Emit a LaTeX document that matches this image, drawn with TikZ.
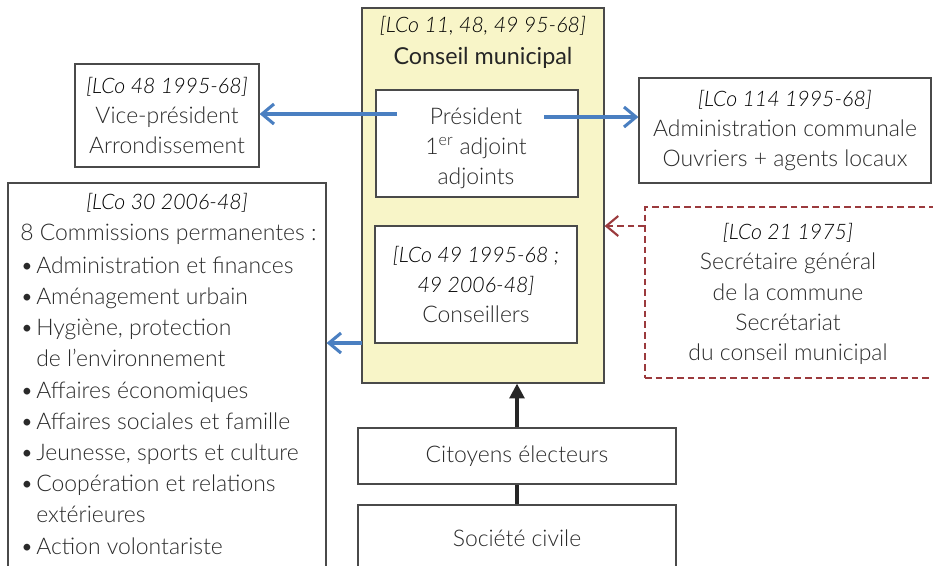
\documentclass[tikz,border=0pt]{standalone}
\usepackage{fontspec}
\setmainfont{Lato}[UprightFont=* Light,ItalicFont=* Light Italic,BoldFont=*]
\newfontfamily\titlefont{Lato}
\usetikzlibrary{arrows.meta}
\definecolor{txt}{HTML}{2A2A2A}
\definecolor{frm}{HTML}{4A4A4A}
\definecolor{cmyellow}{HTML}{F8F5C8}
\definecolor{arblue}{HTML}{4A7FC1}
\definecolor{arred}{HTML}{9B3A3D}
\newcommand\blt{\makebox[12pt][l]{•}}
\newcommand\ind{\hspace*{12pt}}
\newcommand\refi[1]{{\fontsize{16}{22.6}\selectfont\itshape\color{black}#1}}
\begin{document}
\begin{tikzpicture}[x=0.75pt,y=-0.75pt,
  every node/.style={text=txt,font=\fontsize{17.2}{22.6}\selectfont,inner sep=0pt},
  sz/.style 2 args={minimum width=#1*0.75pt,minimum height=#2*0.75pt},
  frame/.style={draw=frm,line width=0.9pt},
  dframe/.style={draw=arred,line width=1.1pt,dash pattern=on 5pt off 3pt},
  reftxt/.style={text=black,font=\fontsize{16}{22.6}\selectfont\itshape},
  listtxt/.style={font=\fontsize{17.2}{23.4}\selectfont},
  bluearrow/.style={draw=arblue,line width=2.3pt,-{Straight Barb[length=9pt,width=15pt,line width=2.3pt]}},
  redarrow/.style={draw=arred,line width=1.6pt,dash pattern=on 5pt off 3pt,-{Straight Barb[length=9pt,width=15pt,line width=1.6pt]}},
  blackarrow/.style={draw=black!85,line width=2.4pt,-{Triangle[length=11pt,width=11pt]}},
  thickline/.style={draw=black!85,line width=2.4pt}]
\useasboundingbox (0,0) rectangle (933,565);
\clip (0,0) rectangle (933,565);
% central council
\node[frame,fill=cmyellow,sz={242}{375}] (cm) at (483,195.5) {};
\node[reftxt] (cmref) at (483,26) {[LCo 11, 48, 49 95-68]};
\node[font=\fontsize{17.5}{22.6}\selectfont\titlefont,text=black!85] (cmtitle) at (483,58) {Conseil municipal};
\node[frame,fill=white,sz={202}{107}] (pres) at (477,143.5) {};
\node[align=center] (prestxt) at (476,148) {Président\\1\textsuperscript{er} adjoint\\adjoints};
\node[frame,fill=white,sz={202}{117},align=center] (cons) at (476,284.5) {\refi{[LCo 49 1995-68 ;}\\\refi{49 2006-48]}\\Conseillers};
% side boxes
\node[frame,sz={184}{103},align=center] (vp) at (167,115.5) {\refi{[LCo 48 1995-68]}\\Vice-président\\Arrondissement};
\node[frame,sz={292}{105},align=center] (adm) at (785,130.5) {\refi{[LCo 114 1995-68]}\\Administration communale\\Ouvriers + agents locaux};
\node[frame,sz={318}{400}] (comm) at (167,383) {};
\node[reftxt] (commref) at (167,203) {[LCo 30 2006-48]};
\node[anchor=north west,align=left,listtxt] (commlist) at (20,224) {8 Commissions permanentes :\\[1pt]
\blt Administration et finances\\
\blt Aménagement urbain\\
\blt Hygiène, protection\\
\ind de l’environnement\\
\blt Affaires économiques\\
\blt Affaires sociales et famille\\
\blt Jeunesse, sports et culture\\
\blt Coopération et relations\\
\ind extérieures\\
\blt Action volontariste};
\node[dframe,sz={300}{171}] (sec) at (795,292.5) {};
\node[align=center] (sectxt) at (788,294) {\refi{[LCo 21 1975]}\\Secrétaire général\\de la commune\\Secrétariat\\du conseil municipal};
% bottom
\node[frame,sz={318}{56}] (cit) at (517,456) {Citoyens électeurs};
\node[frame,sz={318}{66}] (soc) at (517,538) {Société civile};
% connectors
\coordinate (pl) at (397,114);
\draw[bluearrow] (pl) -- (pl -| vp.east);
\coordinate (pr) at (544,117);
\draw[bluearrow] (pr) -- (pr -| adm.west);
\coordinate (cl) at (362,343);
\draw[bluearrow] (cl) -- (cl -| comm.east);
\coordinate (sr) at (645,226);
\draw[redarrow] (sr) -- (sr -| cm.east);
\draw[blackarrow] (cit.north) -- (cit.north |- cm.south);
\draw[thickline] (soc.north) -- (cit.south);
\end{tikzpicture}
\end{document}
